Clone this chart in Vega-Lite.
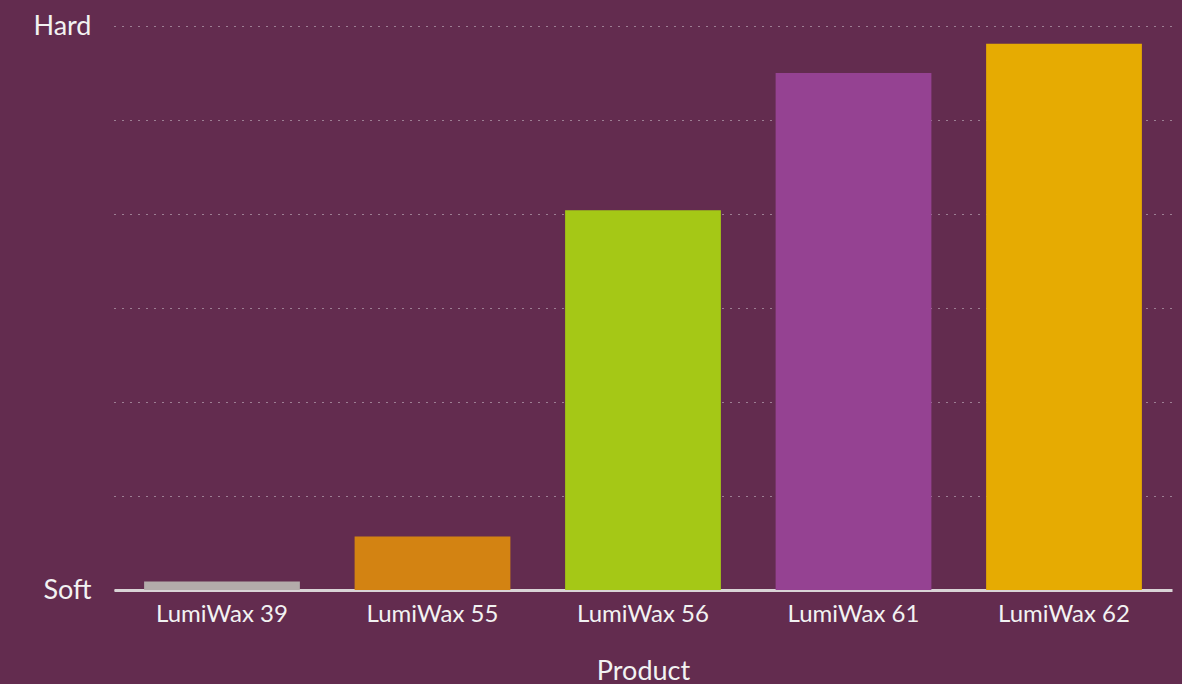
{
  "$schema": "https://vega.github.io/schema/vega-lite/v6.json",
  "width": 1058,
  "height": 564,
  "autosize": {"type": "none"},
  "padding": {"left": 114, "top": 26, "right": 10, "bottom": 94},
  "background": "#632C4F",
  "config": {
    "view": {"stroke": null},
    "font": "Lato"
  },
  "data": {
    "values": [
      {"product": "LumiWax 39", "hardness": 0.09},
      {"product": "LumiWax 55", "hardness": 0.57},
      {"product": "LumiWax 56", "hardness": 4.04},
      {"product": "LumiWax 61", "hardness": 5.5},
      {"product": "LumiWax 62", "hardness": 5.81}
    ]
  },
  "mark": {"type": "bar"},
  "encoding": {
    "x": {
      "field": "product",
      "type": "nominal",
      "title": "Product",
      "scale": {"paddingInner": 0.26, "paddingOuter": 0.143},
      "axis": {
        "labelAngle": 0,
        "labelFont": "Lato",
        "labelFontSize": 24,
        "labelColor": "#F2F2F2",
        "labelPadding": 12,
        "ticks": false,
        "domainColor": "#D9D4D6",
        "domainWidth": 3,
        "titleFont": "Lato",
        "titleFontSize": 27,
        "titleFontWeight": "normal",
        "titleColor": "#F2F2F2",
        "titlePadding": 32
      }
    },
    "y": {
      "field": "hardness",
      "type": "quantitative",
      "title": null,
      "scale": {"domain": [0, 6], "nice": false},
      "axis": {
        "values": [0, 1, 2, 3, 4, 5, 6],
        "labelExpr": "datum.value == 0 ? 'Soft' : (datum.value == 6 ? 'Hard' : '')",
        "labelFont": "Lato",
        "labelFontSize": 27,
        "labelColor": "#F2F2F2",
        "labelPadding": 23,
        "ticks": false,
        "domain": false,
        "grid": true,
        "gridColor": "#D8D0D8",
        "gridDash": [1, 7],
        "gridWidth": 1.2
      }
    },
    "color": {
      "field": "product",
      "type": "nominal",
      "legend": null,
      "scale": {
        "domain": ["LumiWax 39", "LumiWax 55", "LumiWax 56", "LumiWax 61", "LumiWax 62"],
        "range": ["#B3ABAA", "#D38312", "#A5C816", "#954292", "#E6AB02"]
      }
    }
  }
}
